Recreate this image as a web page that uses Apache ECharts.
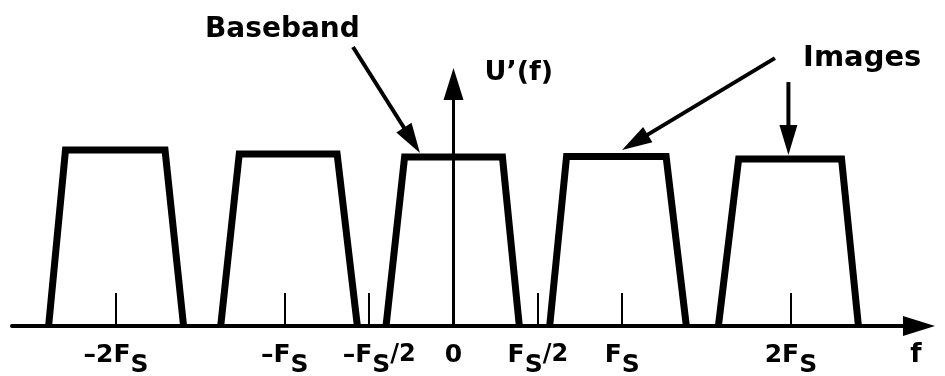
<!DOCTYPE html>
<html>
<head>
<meta charset="utf-8">
<script src="https://cdn.jsdelivr.net/npm/echarts@6/dist/echarts.min.js"></script>
<style>
  html, body { margin: 0; padding: 0; background: #fff; }
  #chart { width: 945px; height: 376px; }
</style>
</head>
<body>
<div id="chart"></div>
<script>
// Spectrum U'(f) of a sampled signal: the baseband and its images at multiples of Fs.
// Frequency is in units of Fs, magnitude is relative.
const bandBottomLeft  = [-2.40, -1.38, -0.40, 0.57, 1.57];
const bandTopLeft     = [-2.30, -1.27, -0.29, 0.67, 1.69];
const bandTopRight    = [-1.71, -0.69,  0.29, 1.26, 2.30];
const bandBottomRight = [-1.60, -0.57,  0.39, 1.38, 2.40];
const bandLevel       = [0.727, 0.711, 0.698, 0.700, 0.690];

// Frequency axis marks and labels
const tickValues  = [-2, -1, -0.5, 0.5, 1, 2];
const labelValues = [-2, -1, -0.5, 0, 0.5, 1, 2];
const labelParts  = [
  ['–2F', 'S', ''], ['–F', 'S', ''], ['–F', 'S', '/2'], ['0', '', ''],
  ['F', 'S', '/2'], ['F', 'S', ''], ['2F', 'S', '']
];

// Callouts (frequency in Fs, relative magnitude)
const calloutText = ['Baseband', 'Images'];
const calloutAt   = [[-1.473, 1.223], [2.072, 1.107]];
const arrowFrom   = [[-0.596, 1.153], [1.905, 1.107], [1.985, 1.008]];
const arrowTo     = [[-0.199, 0.715], [0.999, 0.727], [1.985, 0.707]];

const FONT = 'DejaVu Sans';
const INK = '#000';
const calloutFontSize = [28, 29];

const chart = echarts.init(document.getElementById('chart'), null, { renderer: 'canvas' });

const bandSeries = bandLevel.map((h, i) => ({
  type: 'line',
  name: 'band' + i,
  data: [
    [bandBottomLeft[i], 0],
    [bandTopLeft[i], h],
    [bandTopRight[i], h],
    [bandBottomRight[i], 0]
  ],
  symbol: 'none',
  silent: true,
  z: 3,
  lineStyle: { color: INK, width: 7, join: 'miter', cap: 'butt' }
}));

const arrowSeries = {
  type: 'custom',
  silent: true,
  z: 4,
  data: arrowFrom.map((p, i) => [p[0], p[1], arrowTo[i][0], arrowTo[i][1]]),
  renderItem(params, api) {
    const a = api.coord([api.value(0), api.value(1)]);
    const b = api.coord([api.value(2), api.value(3)]);
    const dx = b[0] - a[0], dy = b[1] - a[1];
    const len = Math.hypot(dx, dy);
    const ux = dx / len, uy = dy / len;
    const headLen = 30, headHalf = 9;
    const bx = b[0] - ux * headLen, by = b[1] - uy * headLen;
    return {
      type: 'group',
      children: [
        { type: 'line', shape: { x1: a[0], y1: a[1], x2: bx + ux * 2, y2: by + uy * 2 },
          style: { stroke: INK, lineWidth: 4 } },
        { type: 'polygon',
          shape: { points: [[b[0], b[1]], [bx - uy * headHalf, by + ux * headHalf], [bx + uy * headHalf, by - ux * headHalf]] },
          style: { fill: INK } }
      ]
    };
  }
};

const calloutSeries = {
  type: 'custom',
  silent: true,
  z: 4,
  data: calloutAt.map(p => [p[0], p[1]]),
  renderItem(params, api) {
    const p = api.coord([api.value(0), api.value(1)]);
    return {
      type: 'text',
      x: p[0], y: p[1],
      style: {
        text: calloutText[params.dataIndex],
        fill: INK,
        font: 'bold ' + calloutFontSize[params.dataIndex] + 'px "' + FONT + '"',
        align: 'left',
        verticalAlign: 'middle'
      }
    };
  }
};

function labelFormatter(value) {
  const i = labelValues.findIndex(v => Math.abs(v - value) < 1e-9);
  if (i < 0) return '';
  const [main, sub, tail] = labelParts[i];
  let s = (value === -0.5 ? '{w|' : '{m|') + main + '}';
  if (sub) s += '{s|' + sub + '}';
  if (tail) s += '{t|' + tail + '}';
  return s;
}

const textBase = { fontFamily: FONT, fontWeight: 'bold', color: INK, verticalAlign: 'top' };

chart.setOption({
  animation: false,
  backgroundColor: '#fff',
  grid: { left: 12, right: 26, top: 84, bottom: 50, containLabel: false, outerBoundsMode: 'none' },
  xAxis: {
    type: 'value',
    min: -2.617,
    max: 2.759,
    splitLine: { show: false },
    axisLine: {
      show: true, onZero: true,
      symbol: ['none', 'triangle'], symbolSize: [20, 32],
      lineStyle: { color: INK, width: 4 }
    },
    axisTick: {
      show: true, inside: true, length: 33, customValues: tickValues,
      lineStyle: { color: INK, width: 2 }
    },
    axisLabel: {
      show: true, customValues: labelValues, margin: 17,
      fontSize: 25, fontFamily: FONT, fontWeight: 'bold', color: INK,
      formatter: labelFormatter,
      rich: {
        m: Object.assign({ fontSize: 25 }, textBase),
        w: Object.assign({ fontSize: 25, padding: [0, 0, 0, 20] }, textBase),
        s: Object.assign({ fontSize: 25, padding: [10, 0, 0, 0] }, textBase),
        t: Object.assign({ fontSize: 24 }, textBase)
      }
    },
    name: 'f',
    nameLocation: 'end',
    nameGap: -3,
    nameMoveOverlap: false,
    nameTextStyle: {
      fontFamily: FONT, fontWeight: 'bold', fontSize: 26, color: INK,
      align: 'center', verticalAlign: 'top', padding: [16, 0, 0, 0]
    }
  },
  yAxis: {
    type: 'value',
    min: 0,
    max: 1,
    splitLine: { show: false },
    axisTick: { show: false },
    axisLabel: { show: false },
    axisLine: {
      show: true, onZero: true,
      symbol: ['none', 'triangle'], symbolSize: [20, 32],
      lineStyle: { color: INK, width: 3 }
    },
    name: 'U’(f)',
    nameLocation: 'end',
    nameGap: 11,
    nameMoveOverlap: false,
    nameTextStyle: {
      fontFamily: FONT, fontWeight: 'bold', fontSize: 27, color: INK,
      align: 'left', verticalAlign: 'middle', padding: [0, 0, 0, 31]
    }
  },
  series: bandSeries.concat([arrowSeries, calloutSeries])
});
</script>
</body>
</html>
